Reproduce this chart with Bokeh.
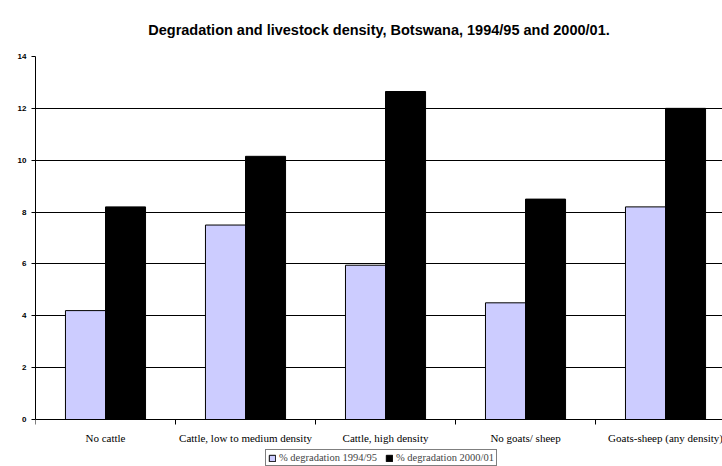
from bokeh.plotting import figure
from bokeh.models import FixedTicker, Legend, LegendItem, ColumnDataSource, Span
from bokeh.core.properties import value
from bokeh.transform import dodge
from bokeh.embed import file_html
from bokeh.resources import INLINE

categories = ["No cattle", "Cattle, low to medium density", "Cattle, high density",
              "No goats/ sheep", "Goats-sheep (any density)"]
deg_1994 = [4.2, 7.5, 5.95, 4.5, 8.2]
deg_2000 = [8.2, 10.15, 12.65, 8.5, 12.0]
series_labels = ["% degradation 1994/95", "% degradation 2000/01"]
y_ticks = [0, 2, 4, 6, 8, 10, 12, 14]

centers = [i + 0.5 for i in range(len(categories))]
bounds = [i for i in range(len(categories) + 1)]

# layout constants (pixels)
plot_px = 363            # height of the 0..14 value area
below_px = 48            # room under the baseline for labels and legend
px_per_unit = plot_px / (y_ticks[-1] - y_ticks[0])
y_start = -below_px / px_per_unit
tick_len = 5 / px_per_unit

src = ColumnDataSource(dict(x=centers, a=deg_1994, b=deg_2000))
tick_src = ColumnDataSource(dict(x=bounds, y0=[0] * len(bounds), y1=[-tick_len] * len(bounds)))
lab_src = ColumnDataSource(dict(x=centers, y=[0] * len(centers), t=categories))

p = figure(frame_width=687, frame_height=plot_px + below_px,
           x_range=(0, 4.907), y_range=(y_start, y_ticks[-1]),
           x_axis_location=None,
           output_backend="svg", toolbar_location=None,
           min_border_left=35, min_border_right=0, min_border_top=55, min_border_bottom=0)
p.outline_line_color = None

bw = 0.286
r1 = p.vbar(x=dodge("x", -bw / 2), top="a", width=bw, source=src,
            fill_color="#CCCCFF", line_color="black", line_width=1)
r2 = p.vbar(x=dodge("x", bw / 2), top="b", width=bw, source=src,
            fill_color="black", line_color="black", line_width=1)

# baseline (x axis line), boundary ticks and category labels
p.add_layout(Span(location=0, dimension="width", line_color="black", line_width=1))
p.segment(x0="x", y0="y0", x1="x", y1="y1", source=tick_src, line_color="black", line_width=1)
p.text(x="x", y="y", text="t", source=lab_src, y_offset=18,
       text_align="center", text_baseline="middle",
       text_font=value("Liberation Serif"), text_font_size="11px", text_color="black")

p.title.text = "Degradation and livestock density, Botswana, 1994/95 and 2000/01."
p.title.align = "center"
p.title.text_font = "Liberation Sans"
p.title.text_font_size = "14.5px"
p.title.text_font_style = "bold"
p.title.text_color = "black"
p.title.standoff = 38

# y axis
p.yaxis.ticker = FixedTicker(ticks=y_ticks)
p.yaxis.bounds = (y_ticks[0], y_ticks[-1])
p.yaxis.major_tick_out = 4
p.yaxis.major_tick_in = 0
p.yaxis.minor_tick_out = 0
p.yaxis.minor_tick_in = 0
p.yaxis.axis_line_color = "black"
p.yaxis.major_tick_line_color = "black"
p.yaxis.major_label_text_font = "Liberation Sans"
p.yaxis.major_label_text_font_size = "8px"
p.yaxis.major_label_text_font_style = "bold"
p.yaxis.major_label_text_color = "black"
p.yaxis.major_label_standoff = 5

for g in p.grid:
    if g.dimension == 0:
        g.visible = False
p.ygrid.ticker = FixedTicker(ticks=y_ticks[1:-1])
p.ygrid.grid_line_color = "black"
p.ygrid.grid_line_width = 1

legend = Legend(items=[LegendItem(label=series_labels[0], renderers=[r1]),
                       LegendItem(label=series_labels[1], renderers=[r2])],
                orientation="horizontal", location=(230, 1),
                border_line_color="black", border_line_width=1,
                background_fill_color="white", background_fill_alpha=1.0,
                label_text_font="Liberation Serif", label_text_font_size="10.5px",
                glyph_width=8, glyph_height=8, label_height=10,
                label_standoff=3, padding=2, spacing=8, margin=0)
p.add_layout(legend, "center")

open("out.html", "w").write(file_html(p, INLINE))
